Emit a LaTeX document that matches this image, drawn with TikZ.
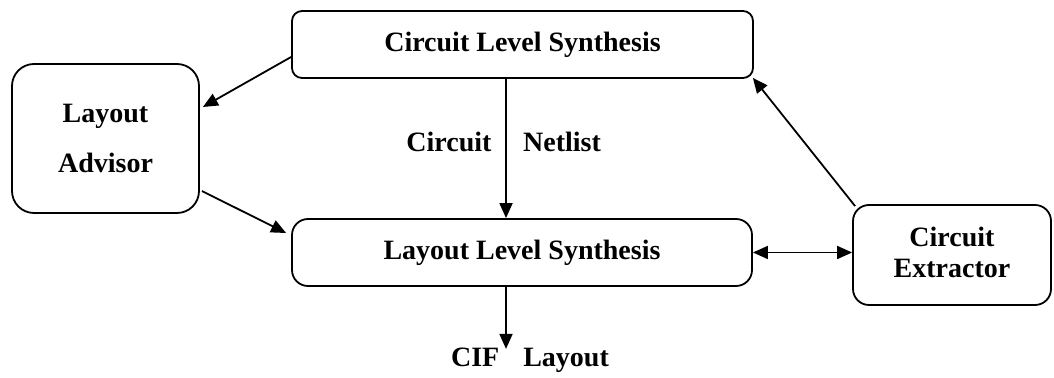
\documentclass[tikz,border=0pt]{standalone}
\usepackage{fontspec}
\setmainfont{Liberation Serif}
\usetikzlibrary{arrows.meta,calc}

\tikzset{
  blk/.style={draw, line width=0.9pt, align=center, inner sep=0pt,
              font=\fontsize{14}{17}\selectfont\bfseries},
  lbl/.style={inner sep=0pt, font=\fontsize{14}{17}\selectfont\bfseries},
  arr/.style={line width=0.9pt, -{Triangle[length=7.5pt,width=6.5pt]}},
  darr/.style={line width=0.9pt, {Triangle[length=7.5pt,width=6.5pt]}-{Triangle[length=7.5pt,width=6.5pt]}}
}

\begin{document}
\begin{tikzpicture}[x=0.5pt, y=-0.5pt]
\useasboundingbox (0,0) rectangle (1054,378);

% blocks
\node[blk, rounded corners=5pt, minimum width=230.5pt, minimum height=33.5pt]
  (cls) at (522.5,44.5) {Circuit Level Synthesis};
\node[blk, rounded corners=11pt, minimum width=93.5pt, minimum height=74.5pt]
  (la) at (105.5,138.5) {Layout\\[8pt]Advisor};
\node[blk, rounded corners=8pt, minimum width=230pt, minimum height=33.5pt]
  (lls) at (522,252.5) {Layout Level Synthesis};
\node[blk, rounded corners=8pt, minimum width=99pt, minimum height=50pt]
  (ce) at (952,255) {};
\node[lbl, align=center] (cetxt) at ($(ce.center)+(0,-3)$) {Circuit\\[-1.5pt]Extractor};

% labels
\node[lbl] (ckt) at (449,142) {Circuit};
\node[lbl] (net) at (562,142) {Netlist};
\node[lbl] (cif) at (530,360) {CIF\hspace{12pt}Layout};

% connectors
\draw[arr] ($(cls.west)+(0,12.5)$) -- ($(la.east)+(3,-31.5)$);
\draw[arr] ($(la.east)+(2,52.5)$) -- ($(lls.west)+(-5,-19.5)$);
\draw[arr] ($(cls.south)+(-16.5,0)$) -- ($(lls.north)+(-16,0)$);
\draw[darr] (lls.east) -- (lls.east -| ce.west);
\draw[arr] ($(ce.north west)+(3,2)$) -- ($(cls.south east)+(-1,-1)$);
\coordinate (cifin) at ($(lls.south)+(-16,62)$);
\draw[arr] ($(lls.south)+(-16,0)$) -- (cifin);
\end{tikzpicture}
\end{document}
